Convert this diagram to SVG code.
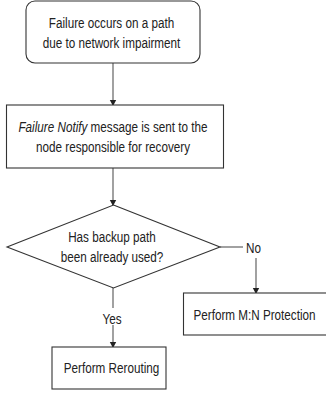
<svg xmlns="http://www.w3.org/2000/svg" width="326" height="394" viewBox="0 0 326 394">
<defs>
<marker id="arr" markerWidth="6" markerHeight="8" refX="5" refY="4" orient="auto" markerUnits="userSpaceOnUse">
<path d="M0,0.8 L6,4 L0,7.2 Z" fill="#222"/>
</marker>
<style>
.box{fill:#fff;stroke:#333;stroke-width:1.1}
.t{font-family:"Liberation Sans",Arial,sans-serif;font-size:15px;fill:#222;text-anchor:middle}
.c{fill:none;stroke:#555;stroke-width:1.1}
</style>
</defs>
<rect width="326" height="394" fill="#fff"/>
<g id="connectors">
<line class="c" x1="113" y1="63" x2="113" y2="105" marker-end="url(#arr)"/>
<line class="c" x1="113" y1="168" x2="113" y2="205" marker-end="url(#arr)"/>
<line class="c" x1="220" y1="247" x2="243" y2="247"/>
<line class="c" x1="256" y1="258" x2="256" y2="293" marker-end="url(#arr)"/>
<line class="c" x1="113" y1="288" x2="113" y2="308"/>
<line class="c" x1="113" y1="325" x2="113" y2="347" marker-end="url(#arr)"/>
<text class="t" transform="translate(253.5,252.5) scale(0.78,1)">No</text>
<text class="t" transform="translate(112,323.5) scale(0.78,1)">Yes</text>
</g>
<g id="start">
<rect class="box" x="26" y="1" width="174" height="62" rx="9"/>
<text class="t" transform="translate(111.5,27.5) scale(0.78,1)">Failure occurs on a path</text>
<text class="t" transform="translate(111.5,47.5) scale(0.78,1)">due to network impairment</text>
</g>
<g id="notify">
<rect class="box" x="6.5" y="105" width="217" height="63"/>
<text class="t" transform="translate(113,132) scale(0.78,1)"><tspan font-style="italic">Failure Notify</tspan> message is sent to the</text>
<text class="t" transform="translate(113,152) scale(0.78,1)">node responsible for recovery</text>
</g>
<g id="decision">
<polygon class="box" points="113.5,205 220,247 113.5,288 7,247"/>
<text class="t" transform="translate(112,242) scale(0.78,1)">Has backup path</text>
<text class="t" transform="translate(112,262) scale(0.78,1)">been already used?</text>
</g>
<g id="mn">
<rect class="box" x="183.5" y="293" width="150" height="42"/>
<text class="t" transform="translate(254.5,320) scale(0.78,1)">Perform M:N Protection</text>
</g>
<g id="reroute">
<rect class="box" x="52" y="347" width="114" height="42"/>
<text class="t" transform="translate(111.5,373) scale(0.78,1)">Perform Rerouting</text>
</g>
</svg>
